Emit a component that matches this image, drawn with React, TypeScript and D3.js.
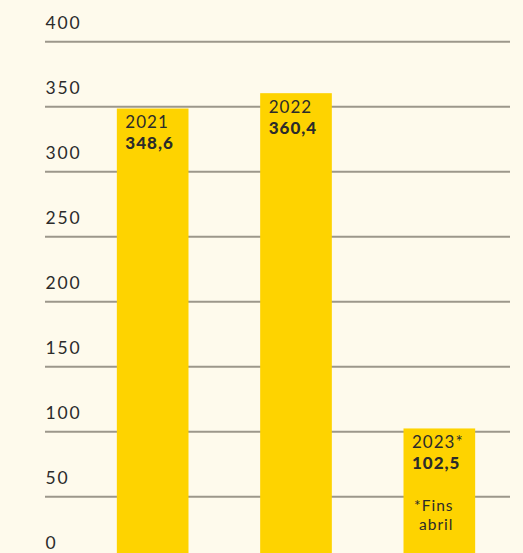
import React from "react";
import * as d3 from "d3";

const years = ["2021", "2022", "2023*"];
const values = [348.6, 360.4, 102.5];
const valueLabels = ["348,6", "360,4", "102,5"];
const ticks = [0, 50, 100, 150, 200, 250, 300, 350, 400];
const footnote = ["*Fins", "abril"];

const W = 523;
const H = 553;
const BG = "#FEFAEC";
const BAR = "#FED300";
const GRID = "#9C978B";
const TEXT = "#2B2B2B";
const FONT = "Lato, 'Open Sans', sans-serif";

export default function App() {
  const y = d3.scaleLinear().domain([0, 400]).range([561.7, 41.7]);
  const x = d3
    .scaleBand<string>()
    .domain(years)
    .range([81, 511])
    .paddingInner(0.5)
    .paddingOuter(0.25);

  return (
    <svg
      width={W}
      height={H}
      style={{ position: "absolute", left: 0, top: 0, display: "block" }}
    >
      <rect x={0} y={0} width={W} height={H} fill={BG} />
      {ticks.map((t) => (
        <g key={t}>
          {t > 0 && (
            <line
              x1={45}
              x2={510}
              y1={y(t)}
              y2={y(t)}
              stroke={GRID}
              strokeWidth={2}
            />
          )}
          <text
            x={45.5}
            y={y(t) - 12.5}
            fontFamily={FONT}
            fontSize={17.5}
            letterSpacing={1.8}
            fill={TEXT}
          >
            {t}
          </text>
        </g>
      ))}
      {years.map((yr, i) => {
        const bx = x(yr)!;
        const top = y(values[i]);
        const bw = x.bandwidth();
        return (
          <g key={yr}>
            <rect x={bx} y={top} width={bw} height={H - top + 20} fill={BAR} />
            <text
              x={bx + 8.5}
              y={top + 19.5}
              fontFamily={FONT}
              fontSize={17}
              letterSpacing={1}
              fill={TEXT}
            >
              {yr}
            </text>
            <text
              x={bx + 8.5}
              y={top + 40.5}
              fontFamily={FONT}
              fontSize={17}
              fontWeight={900}
              letterSpacing={1}
              fill={TEXT}
            >
              {valueLabels[i]}
            </text>
            {i === 2 &&
              footnote.map((f, j) => (
                <text
                  key={f}
                  x={bx + 50}
                  y={top + 83 + j * 19}
                  textAnchor="end"
                  fontFamily={FONT}
                  fontSize={15.5}
                  letterSpacing={1}
                  fill={TEXT}
                >
                  {f}
                </text>
              ))}
          </g>
        );
      })}
    </svg>
  );
}
